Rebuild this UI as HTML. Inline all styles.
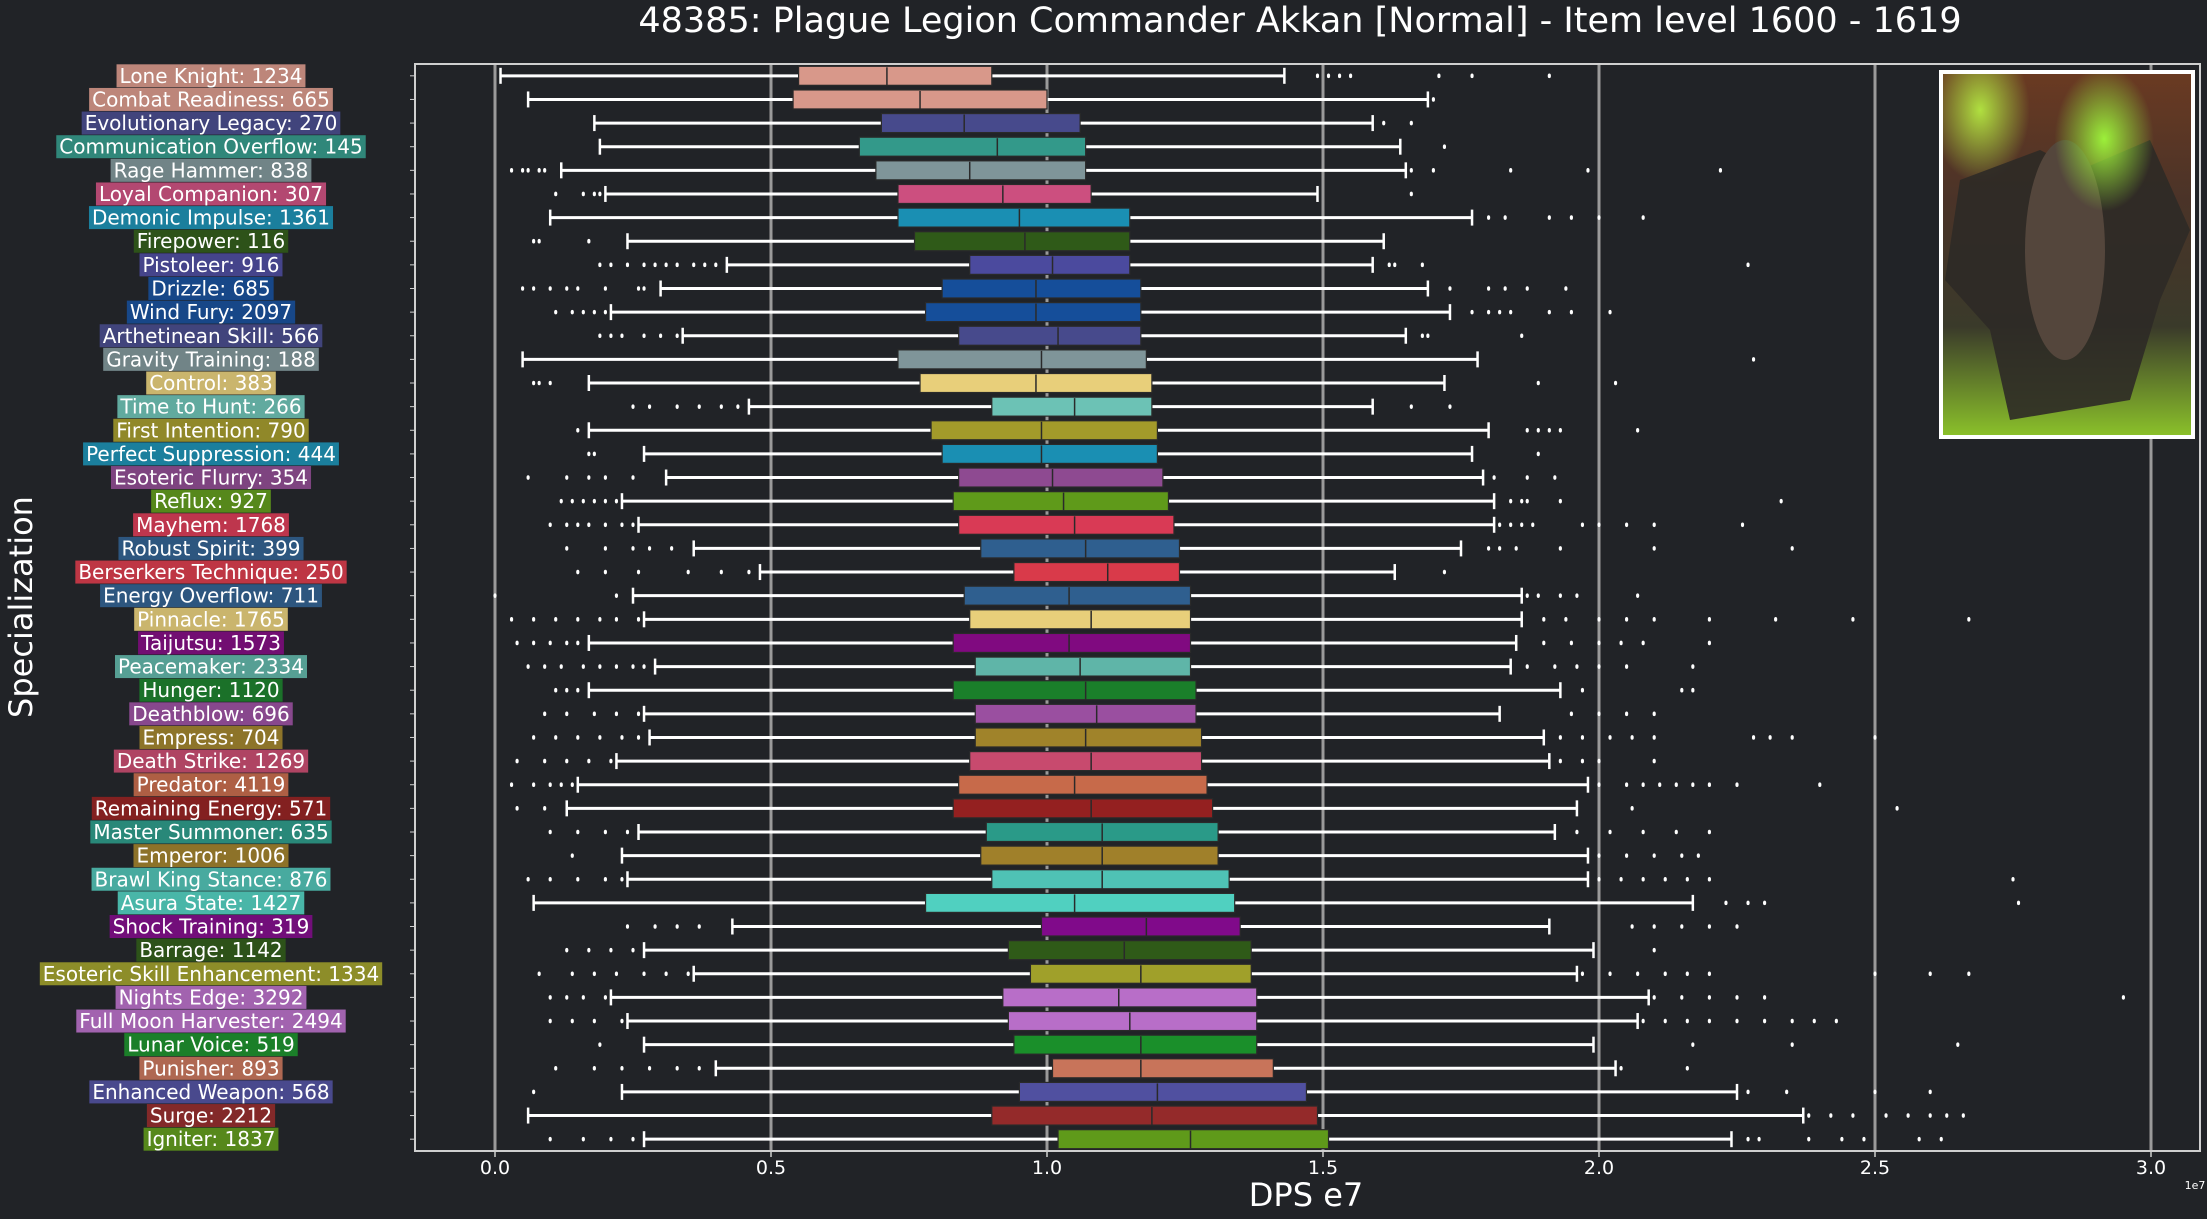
<!DOCTYPE html>
<html><head><meta charset="utf-8"><style>
html,body{margin:0;padding:0;background:#212327;}
svg{display:block;font-family:"DejaVu Sans","Liberation Sans",sans-serif;}
</style></head><body>
<svg id="chart" width="2207" height="1219" viewBox="0 0 2207 1219" xmlns="http://www.w3.org/2000/svg">
<rect x="0" y="0" width="2207" height="1219" fill="#212327"/>
<text x="1300" y="32" font-size="35" fill="#ffffff" text-anchor="middle">48385: Plague Legion Commander Akkan [Normal] - Item level 1600 - 1619</text>
<text transform="translate(32,607) rotate(-90)" font-size="32" fill="#ffffff" text-anchor="middle">Specialization</text>
<text x="1306" y="1206" font-size="32" fill="#ffffff" text-anchor="middle">DPS e7</text>
<text x="2195" y="1189" font-size="11" fill="#ffffff" text-anchor="middle">1e7</text>
<g id="grid"></g>
<g id="marks"></g>
<g id="labels"></g>
<g id="xticks"></g>
<rect x="415" y="64" width="1785" height="1087" fill="none" stroke="#cfcfcf" stroke-width="2"/>
<g>
<defs>
<linearGradient id="pg" x1="0" y1="0" x2="0" y2="1">
<stop offset="0" stop-color="#6a3a22"/><stop offset="0.35" stop-color="#4a3328"/><stop offset="0.7" stop-color="#3a3a2a"/><stop offset="1" stop-color="#8ac02a"/></linearGradient>
<radialGradient id="pg2" cx="0.65" cy="0.18" r="0.2"><stop offset="0" stop-color="#9cf03a"/><stop offset="1" stop-color="#9cf03a" stop-opacity="0"/></radialGradient>
<radialGradient id="pg3" cx="0.15" cy="0.1" r="0.2"><stop offset="0" stop-color="#b0e040"/><stop offset="1" stop-color="#b0e040" stop-opacity="0"/></radialGradient>
</defs>
<rect x="1939" y="70" width="256" height="369" fill="#ffffff"/>
<rect x="1943" y="74" width="248" height="361" fill="url(#pg)"/>
<rect x="1943" y="74" width="248" height="361" fill="url(#pg3)"/>
<path d="M1960 180 L2040 150 L2080 170 L2150 140 L2190 230 L2160 300 L2130 400 L2010 420 L1990 330 L1945 280 Z" fill="#2e2a26" opacity="0.9"/>
<ellipse cx="2065" cy="250" rx="40" ry="110" fill="#54463c"/>
<rect x="1943" y="74" width="248" height="361" fill="url(#pg2)"/>
</g>
</svg>
<script>
const categories=["Lone Knight: 1234","Combat Readiness: 665","Evolutionary Legacy: 270","Communication Overflow: 145","Rage Hammer: 838","Loyal Companion: 307","Demonic Impulse: 1361","Firepower: 116","Pistoleer: 916","Drizzle: 685","Wind Fury: 2097","Arthetinean Skill: 566","Gravity Training: 188","Control: 383","Time to Hunt: 266","First Intention: 790","Perfect Suppression: 444","Esoteric Flurry: 354","Reflux: 927","Mayhem: 1768","Robust Spirit: 399","Berserkers Technique: 250","Energy Overflow: 711","Pinnacle: 1765","Taijutsu: 1573","Peacemaker: 2334","Hunger: 1120","Deathblow: 696","Empress: 704","Death Strike: 1269","Predator: 4119","Remaining Energy: 571","Master Summoner: 635","Emperor: 1006","Brawl King Stance: 876","Asura State: 1427","Shock Training: 319","Barrage: 1142","Esoteric Skill Enhancement: 1334","Nights Edge: 3292","Full Moon Harvester: 2494","Lunar Voice: 519","Punisher: 893","Enhanced Weapon: 568","Surge: 2212","Igniter: 1837"];
const whiskerLow=[0.01,0.06,0.18,0.19,0.12,0.20,0.10,0.24,0.42,0.30,0.21,0.34,0.05,0.17,0.46,0.17,0.27,0.31,0.23,0.26,0.36,0.48,0.25,0.27,0.17,0.29,0.17,0.27,0.28,0.22,0.15,0.13,0.26,0.23,0.24,0.07,0.43,0.27,0.36,0.21,0.24,0.27,0.40,0.23,0.06,0.27];
const q1=[0.55,0.54,0.70,0.66,0.69,0.73,0.73,0.76,0.86,0.81,0.78,0.84,0.73,0.77,0.90,0.79,0.81,0.84,0.83,0.84,0.88,0.94,0.85,0.86,0.83,0.87,0.83,0.87,0.87,0.86,0.84,0.83,0.89,0.88,0.90,0.78,0.99,0.93,0.97,0.92,0.93,0.94,1.01,0.95,0.90,1.02];
const median=[0.71,0.77,0.85,0.91,0.86,0.92,0.95,0.96,1.01,0.98,0.98,1.02,0.99,0.98,1.05,0.99,0.99,1.01,1.03,1.05,1.07,1.11,1.04,1.08,1.04,1.06,1.07,1.09,1.07,1.08,1.05,1.08,1.10,1.10,1.10,1.05,1.18,1.14,1.17,1.13,1.15,1.17,1.17,1.20,1.19,1.26];
const q3=[0.90,1.00,1.06,1.07,1.07,1.08,1.15,1.15,1.15,1.17,1.17,1.17,1.18,1.19,1.19,1.20,1.20,1.21,1.22,1.23,1.24,1.24,1.26,1.26,1.26,1.26,1.27,1.27,1.28,1.28,1.29,1.30,1.31,1.31,1.33,1.34,1.35,1.37,1.37,1.38,1.38,1.38,1.41,1.47,1.49,1.51];
const whiskerHigh=[1.43,1.69,1.59,1.64,1.65,1.49,1.77,1.61,1.59,1.69,1.73,1.65,1.78,1.72,1.59,1.80,1.77,1.79,1.81,1.81,1.75,1.63,1.86,1.86,1.85,1.84,1.93,1.82,1.90,1.91,1.98,1.96,1.92,1.98,1.98,2.17,1.91,1.99,1.96,2.09,2.07,1.99,2.03,2.25,2.37,2.24];
const outliers=[[1.49,1.51,1.53,1.55,1.71,1.77,1.91],[1.70],[1.61,1.66],[1.72],[0.03,0.05,0.06,0.08,0.09,1.66,1.70,1.84,1.98,2.22],[0.11,0.16,0.18,0.19,1.66],[1.80,1.83,1.91,1.95,2.00,2.08],[0.07,0.08,0.17],[0.19,0.21,0.24,0.27,0.29,0.31,0.33,0.36,0.38,0.40,1.62,1.63,1.68,2.27],[0.05,0.07,0.10,0.13,0.15,0.20,0.26,0.27,1.73,1.80,1.83,1.87,1.94],[0.11,0.14,0.16,0.18,0.20,1.77,1.80,1.82,1.84,1.91,1.95,2.02],[0.19,0.21,0.23,0.27,0.30,0.33,1.68,1.69,1.86],[2.28],[0.07,0.08,0.10,1.89,2.03],[0.25,0.28,0.33,0.37,0.41,0.44,1.66,1.73],[0.15,1.87,1.89,1.91,1.93,2.07],[0.17,0.18,1.89],[0.06,0.13,0.17,0.20,0.25,1.81,1.87,1.92],[0.12,0.14,0.16,0.18,0.20,0.22,1.84,1.86,1.87,1.93,2.33],[0.10,0.13,0.15,0.17,0.20,0.23,0.25,1.82,1.84,1.86,1.88,1.97,2.00,2.05,2.10,2.26],[0.13,0.20,0.25,0.28,0.32,1.80,1.82,1.85,1.93,2.10,2.35],[0.15,0.20,0.26,0.35,0.41,0.46,1.72],[0.00,0.22,1.87,1.89,1.93,1.96,2.07],[0.03,0.07,0.11,0.15,0.19,0.22,0.26,1.90,1.94,2.00,2.05,2.10,2.20,2.32,2.46,2.67],[0.04,0.07,0.10,0.13,0.15,1.90,1.95,2.00,2.04,2.08,2.20],[0.06,0.09,0.12,0.16,0.19,0.22,0.25,0.27,1.87,1.92,1.96,2.00,2.05,2.17],[0.11,0.13,0.15,1.97,2.15,2.17],[0.09,0.13,0.18,0.22,0.26,1.95,2.00,2.05,2.10],[0.07,0.11,0.15,0.19,0.23,0.26,1.93,1.97,2.02,2.06,2.10,2.28,2.31,2.35,2.50],[0.04,0.09,0.13,0.17,0.21,1.93,1.97,2.00,2.10],[0.03,0.07,0.10,0.12,0.14,2.00,2.05,2.08,2.11,2.14,2.17,2.20,2.25,2.40],[0.04,0.09,2.06,2.54],[0.10,0.15,0.20,0.24,1.96,2.02,2.08,2.14,2.20],[0.14,2.00,2.05,2.10,2.15,2.18],[0.06,0.10,0.15,0.20,0.23,2.00,2.04,2.08,2.12,2.16,2.20,2.75],[2.23,2.27,2.30,2.76],[0.24,0.29,0.33,0.37,2.06,2.10,2.15,2.20,2.25],[0.13,0.17,0.21,0.25,2.10],[0.08,0.14,0.18,0.22,0.27,0.31,0.35,1.97,2.02,2.07,2.12,2.16,2.20,2.50,2.60,2.67],[0.10,0.13,0.16,0.20,2.10,2.15,2.20,2.25,2.30,2.95],[0.10,0.14,0.18,0.23,2.08,2.12,2.16,2.20,2.25,2.30,2.35,2.39,2.43],[0.19,2.17,2.35,2.65],[0.11,0.18,0.23,0.28,0.33,0.37,2.04,2.16],[0.07,2.27,2.34,2.50,2.60],[2.38,2.42,2.46,2.52,2.56,2.60,2.63,2.66],[0.10,0.16,0.21,0.25,2.27,2.29,2.38,2.44,2.48,2.58,2.62]];
const boxColors=["#d8988a","#d8988a","#474a8c","#33998a","#7f9599","#cc4f7f","#1a8fb3","#2f5a18","#4b4a9e","#154e9a","#154e9a","#474a8c","#7f9599","#e8cf7a","#6cc2b5","#a39a2a","#1a8fb3","#8e4a91","#5f9a1a","#d93a55","#2f5f8f","#d93a4a","#2f5f8f","#e8cf7a","#800a80","#5fb5a8","#1a7f2a","#9a4fa0","#a0832a","#c84a6e","#c76a4a","#942020","#2a9a88","#a0802a","#4fc2b5","#50d0c0","#800a8a","#2f5a18","#a0a02a","#b86ec8","#b86ec8","#1a8f2a","#c8745a","#5050a0","#942a2a","#5f9a1a"];
const xTicks=[0,0.5,1.0,1.5,2.0,2.5,3.0];
const xTickLabels=["0.0","0.5","1.0","1.5","2.0","2.5","3.0"];

const NS="http://www.w3.org/2000/svg";
const plotTop=64,plotBottom=1151;
const x=v=>495+v*552;
const rowH=(plotBottom-plotTop)/categories.length;
const y=i=>plotTop+rowH*(i+0.5);
function mk(tag,attrs,parent){const e=document.createElementNS(NS,tag);for(const k in attrs)e.setAttribute(k,attrs[k]);parent.appendChild(e);return e;}
const grid=document.getElementById('grid'),marks=document.getElementById('marks'),labels=document.getElementById('labels'),xt=document.getElementById('xticks');
xTicks.forEach((t,i)=>{
  const g=mk('line',{x1:x(t),x2:x(t),y1:plotTop,y2:plotBottom,stroke:'#9a9a9a','stroke-width':3},grid);
  
  
  mk('line',{x1:x(t),x2:x(t),y1:plotBottom,y2:plotBottom+6,stroke:'#cfcfcf','stroke-width':1.5},xt);
  const tl=mk('text',{x:x(t),y:1174,'font-size':19,fill:'#ffffff','text-anchor':'middle'},xt);
  tl.textContent=xTickLabels[i];
  
  
});
const tmp=mk('text',{'font-size':20,x:0,y:-100},labels);
categories.forEach((c,i)=>{
  const cy=y(i),h=17;
  const g=mk('g',{},marks);
  
  
  mk('line',{x1:x(whiskerLow[i]),x2:x(q1[i]),y1:cy,y2:cy,stroke:'#ffffff','stroke-width':3},g);
  mk('line',{x1:x(q3[i]),x2:x(whiskerHigh[i]),y1:cy,y2:cy,stroke:'#ffffff','stroke-width':3},g);
  mk('line',{x1:x(whiskerLow[i]),x2:x(whiskerLow[i]),y1:cy-8,y2:cy+8,stroke:'#ffffff','stroke-width':2.5},g);
  mk('line',{x1:x(whiskerHigh[i]),x2:x(whiskerHigh[i]),y1:cy-8,y2:cy+8,stroke:'#ffffff','stroke-width':2.5},g);
  mk('rect',{x:x(q1[i]),y:cy-h/2-1,width:x(q3[i])-x(q1[i]),height:h+2,fill:boxColors[i],stroke:'#2a2a2a','stroke-width':1.2},g);
  mk('line',{x1:x(median[i]),x2:x(median[i]),y1:cy-h/2,y2:cy+h/2+1,stroke:'#2a2a2a','stroke-width':1.5},g);
  outliers[i].forEach(o=>{
    const d=mk('ellipse',{cx:x(o),cy:cy,rx:1.6,ry:2.3,fill:'#ffffff'},g);
    
    
  });
  mk('line',{x1:410,x2:415,y1:cy,y2:cy,stroke:'#cfcfcf','stroke-width':1},labels);
  tmp.textContent=c;
  const w=tmp.getComputedTextLength();
  const bg=mk('rect',{x:211-w/2-3,y:cy-11.5,width:w+6,height:23,fill:boxColors[i],opacity:0.85},labels);
  
  
  const t=mk('text',{x:211,y:cy+7,'font-size':20,fill:'#ffffff','text-anchor':'middle'},labels);
  t.textContent=c;
  
  
});
tmp.remove();
</script>
</body></html>
